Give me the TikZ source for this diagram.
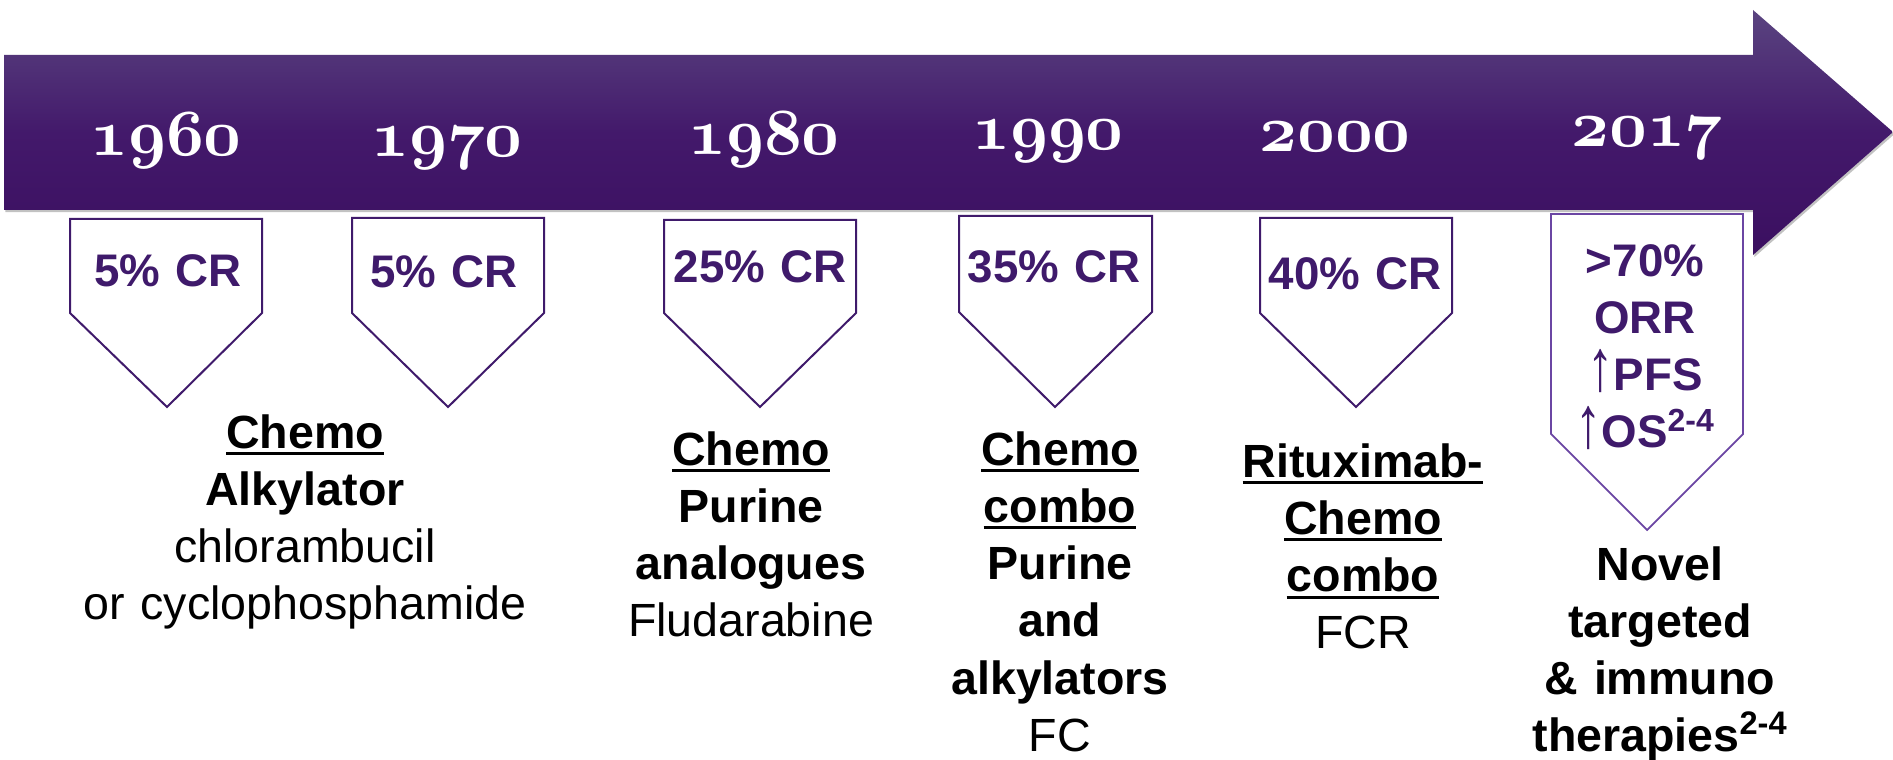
\documentclass[tikz,border=0pt]{standalone}
\usepackage{fix-cm}
\usepackage{graphicx}
\usepackage{fontspec}
\newfontfamily\arialfont{Liberation Sans}
\usepackage{tikz}
\usetikzlibrary{shadows}
\definecolor{tagpurple}{HTML}{3F1A6B}
\definecolor{taglight}{HTML}{6B46A3}
\definecolor{bandtop}{HTML}{5A4480}
\definecolor{bandmid}{HTML}{43196B}
\definecolor{bandbot}{HTML}{3B0F60}
% bold old style figures for the years
\newcommand{\yearfont}{\fontencoding{OML}\fontfamily{cmm}\fontseries{b}\fontshape{it}\fontsize{37.5}{40}\selectfont}
% thick underline for the headings
\newcommand{\ulword}[1]{\setbox0\hbox{#1}\rlap{\rule[-4pt]{\wd0}{1.7pt}}\box0}
% tall thin arrow in front of PFS and OS
\newcommand{\upmark}{{\mdseries\scalebox{1.15}[1.6]{↑}}}
\tikzset{
BAND/.style ={top color=bandtop,bottom color=bandbot,middle color=bandmid,drop shadow={fill=black!60,opacity=.4,shadow xshift=0.8pt,shadow yshift=-1.2pt}},
TAG/.style ={draw=tagpurple,fill=white,line join=miter,line width=0.4 mm},
TAGLIGHT/.style ={draw=taglight,fill=white,line join=miter,line width=0.35 mm},
YEAR/.style={text=white,font=\yearfont,anchor=base,inner sep=0pt},
RATE/.style={text=tagpurple,font=\arialfont\bfseries\fontsize{26}{32.6}\selectfont,align=center,text width=6cm,anchor=base,inner sep=0pt},
NOTE/.style={font=\arialfont\fontsize{26.5}{32.6}\selectfont,align=center,text width=10cm,anchor=base,inner sep=0pt},
}
\begin{document}
\begin{tikzpicture} %CLL treatment timeline
[x=0.02cm, y=-0.02cm]
	\useasboundingbox (0,0) rectangle (1893,760);
	\path[BAND] (4,55) -- (1753,55) -- (1753,10) -- (1893,132) -- (1753,255) -- (1753,210) -- (4,210) -- cycle;
	\node[YEAR] (y1960) at (166,156) {1960};
	\node[YEAR] (y1970) at (447,157) {1970};
	\node[YEAR] (y1980) at (764,155) {1980};
	\node[YEAR] (y1990) at (1048,150) {1990};
	\node[YEAR] (y2000) at (1335,152) {2000};
	\node[YEAR] (y2017) at (1647,147) {2017};
	\path[TAG] (70,219) -- (262,219) -- (262,313) -- (167,407) -- (70,313) -- cycle;
	\path[TAG] (352,218) -- (544,218) -- (544,313) -- (448,407) -- (352,313) -- cycle;
	\path[TAG] (664,220) -- (856,220) -- (856,313) -- (760,407) -- (664,313) -- cycle;
	\path[TAG] (959,216) -- (1152,216) -- (1152,312) -- (1055,407) -- (959,312) -- cycle;
	\path[TAG] (1260,218) -- (1452,218) -- (1452,313) -- (1356,407) -- (1260,313) -- cycle;
	\path[TAGLIGHT] (1551,214) -- (1743,214) -- (1743,434) -- (1647,530) -- (1551,434) -- cycle;
	\node[RATE] (cr1960) at (168,286) {5\% CR};
	\node[RATE] (cr1970) at (444,287) {5\% CR};
	\node[RATE] (cr1980) at (760,282) {25\% CR};
	\node[RATE] (cr1990) at (1054,282) {35\% CR};
	\node[RATE] (cr2000) at (1355,290) {40\% CR};
	\node[RATE] (orr2017) at (1645,276) {>70\%\\ORR\\\upmark PFS\\\upmark OS\textsuperscript{2-4}};
	\node[NOTE] (alkyl) at (305,448) {\textbf{\ulword{Chemo}}\\\textbf{Alkylator}\\chlorambucil\\or cyclophosphamide};
	\node[NOTE] (purine) at (751,465) {\textbf{\ulword{Chemo}}\\\textbf{Purine}\\\textbf{analogues}\\Fludarabine};
	\node[NOTE] (combo) at (1060,465) {\textbf{\ulword{Chemo}}\\\textbf{\ulword{combo}}\\\textbf{Purine}\\\textbf{and}\\\textbf{alkylators}\\FC};
	\node[NOTE] (fcr) at (1363,477) {\textbf{\ulword{Rituximab-}}\\\textbf{\ulword{Chemo}}\\\textbf{\ulword{combo}}\\FCR};
	\node[NOTE] (novel) at (1660,580) {\textbf{Novel}\\\textbf{targeted}\\\textbf{\& immuno}\\\textbf{therapies\textsuperscript{2-4}}};
\end{tikzpicture}
\end{document}
